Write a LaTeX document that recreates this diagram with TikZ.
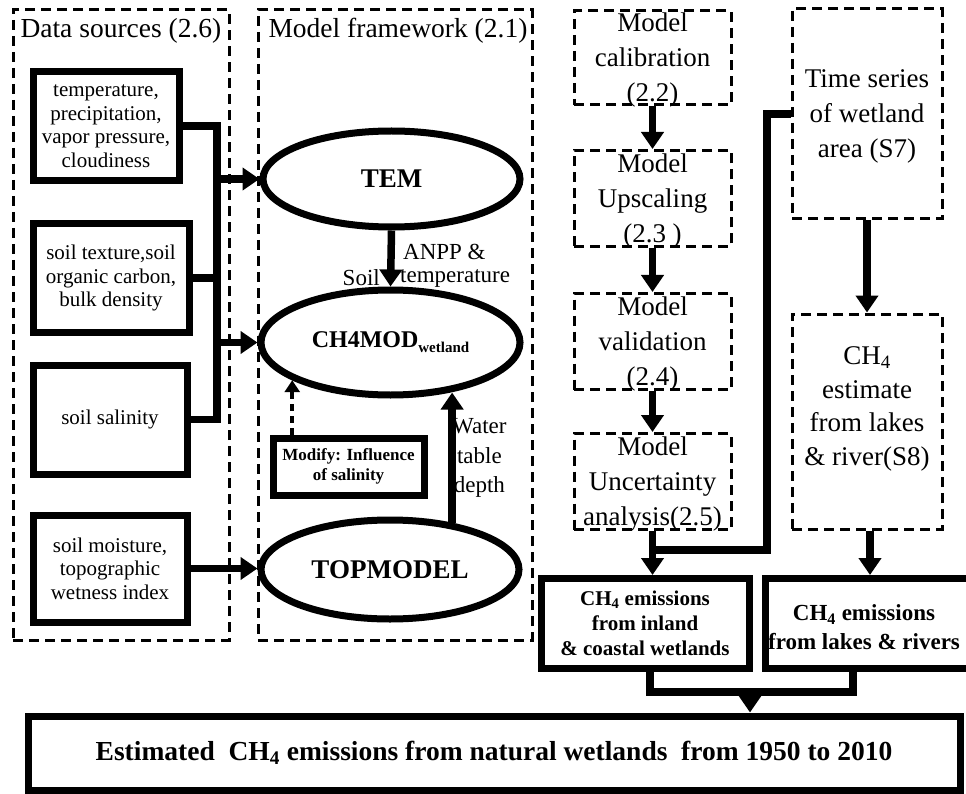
\documentclass[tikz,border=0pt]{standalone}
\usepackage{fontspec}
\setmainfont{Liberation Serif}
\usetikzlibrary{arrows.meta,shapes.geometric}
\newcommand\fs[2]{\fontsize{#1}{#2}\selectfont}
\begin{document}
\begin{tikzpicture}[x=1pt,y=-1pt,
  thickbox/.style={draw, line width=7pt, rectangle, inner sep=0pt, align=center},
  dbox/.style={draw, line width=3pt, dash pattern=on 10pt off 6pt, rectangle, inner sep=0pt},
  ell/.style={draw, ellipse, line width=7pt, inner sep=0pt},
  conn/.style={line width=7.5pt, line join=miter},
  arr/.style={line width=7.5pt, line join=miter, -{Triangle[length=17pt,width=22pt]}},
  dasharr/.style={line width=3.5pt, dash pattern=on 7pt off 5pt, -{Triangle[length=12pt,width=15pt]}},
  dtxt/.style={align=center, font=\fs{21}{23.5}},
  mtxt/.style={align=center, font=\fs{27}{35}},
  ttl/.style={anchor=west, font=\fs{27.5}{28}},
  lbl/.style={font=\fs{23}{29.5}, align=center, inner sep=0pt}
]
\useasboundingbox (0,0) rectangle (966,794);
\clip (0,0) rectangle (966,794);

% group frames
\node[dbox, minimum width=216, minimum height=630] (dsf) at (121,325) {};
\node[dbox, minimum width=274, minimum height=630] (mff) at (395,325) {};
\node[ttl] (t1) at (17,31) {Data sources (2.6)};
\node[ttl] (t2) at (265,31) {Model framework (2.1)};

% data boxes
\node[thickbox, dtxt, minimum width=146, minimum height=109] (b1) at (106,126)
  {temperature,\\precipitation,\\vapor pressure,\\cloudiness};
\node[thickbox, dtxt, minimum width=156, minimum height=109] (b2) at (111,278)
  {soil texture,soil\\organic carbon,\\bulk density};
\node[thickbox, dtxt, minimum width=154, minimum height=109] (b3) at (110,419.5)
  {soil salinity};
\node[thickbox, dtxt, minimum width=154, minimum height=107] (b4) at (110,568.5)
  {soil moisture,\\topographic\\wetness index};

% model ellipses
\node[ell, minimum width=257, minimum height=96, font=\bfseries\fs{27}{27}] (tem) at (391.5,179) {TEM};
\node[ell, minimum width=259, minimum height=105] (ch4) at (390.5,342.5)
  {\bfseries\fs{24}{24}CH4MOD\raisebox{-5pt}{\fs{15}{15}wetland}};
\node[ell, minimum width=258, minimum height=99, font=\bfseries\fs{27}{27}] (topm) at (390,569.5) {TOPMODEL};
\node[thickbox, minimum width=151, minimum height=57, font=\bfseries\fs{17}{20}] (mod) at (348.5,466.5)
  {Modify: Influence\\of salinity};

% bus
\coordinate (busx) at (217,0);
\draw[conn] (b1.east) -- (b1.east -| busx) |- (b3.east);
\draw[conn] (b2.east) -- (b2.east -| busx);
\draw[arr] (busx |- tem.west) -- (tem.west);
\draw[arr] (busx |- ch4.west) -- (ch4.west);
\draw[arr] (b4.east) -- (b4.east -| topm.west);

% model framework arrows
\draw[arr] (tem.south) -- (ch4.north);
\node[lbl, anchor=west] (anpp) at (403,252) {ANPP \&};
\node[lbl, anchor=west] (templ) at (400,278) {temperature};
\node[lbl, anchor=east] (soil) at (380,278) {Soil};
\draw[dasharr] (mod.north -| ch4.201.6) -- (ch4.201.6);
\draw[arr] (topm.37.9) -- (topm.37.9 |- ch4.320.1);
\node[lbl, anchor=west] (wtd) at (452,458) {Water\\table\\depth};

% model steps column
\node[dbox, minimum width=157, minimum height=94] (cal) at (652.5,58) {};
\node[dbox, minimum width=157, minimum height=96] (ups) at (652.5,198.5) {};
\node[dbox, minimum width=157, minimum height=96] (val) at (652.5,341.5) {};
\node[dbox, minimum width=157, minimum height=96] (unc) at (652.5,481.5) {};
\node[mtxt] (calt) at (652.5,60) {Model\\calibration\\(2.2)};
\node[mtxt] (upst) at (652.5,201) {Model\\Upscaling\\(2.3 )};
\node[mtxt] (valt) at (652.5,344) {Model\\validation\\(2.4)};
\node[mtxt] (unct) at (652.5,484) {Model\\Uncertainty\\analysis(2.5)};
\draw[arr] (cal.south) -- (ups.north);
\draw[arr] (ups.south) -- (val.north);
\draw[arr] (val.south) -- (unc.north);

% wetland area column
\node[dbox, minimum width=150, minimum height=210] (ts) at (867,114) {};
\node[dbox, minimum width=150, minimum height=215] (est) at (867,421.5) {};
\node[mtxt] (tst) at (867,116) {Time series\\of wetland\\area (S7)};
\node[mtxt, font=\fs{27}{33.5}] (estt) at (867,409) {CH\textsubscript{4}\\estimate\\from lakes\\\& river(S8)};
\draw[arr] (ts.south) -- (est.north);

% emission boxes
\node[thickbox, minimum width=208, minimum height=90, font=\bfseries\fs{21}{25}] (inl) at (645,623.5)
  {CH\textsubscript{4} emissions\\from inland\\\& coastal wetlands};
\node[thickbox, minimum width=212, minimum height=90] (lak) at (871,623.5) {};
\node[align=center, inner sep=0pt, font=\bfseries\fs{23}{29}] (lakt) at (864,627)
  {CH\textsubscript{4} emissions\\from lakes \& rivers};
\coordinate (jn) at (652.5,550);
\coordinate (tsc) at (767,550);
\coordinate (ax) at (870,0);
\draw[conn] (ts.west) -| (tsc) -- (jn);
\draw[arr] (unc.south) -- (unc.south |- inl.north);
\draw[arr] (est.south -| ax) -- (lak.north -| ax);

% final
\node[thickbox, minimum width=932, minimum height=74, font=\bfseries\fs{27.5}{27.5}] (fin) at (494,753)
  {Estimated\ \ CH\textsubscript{4} emissions from natural wetlands\ \ from 1950 to 2010};
\coordinate (bl) at (650,692);
\coordinate (br) at (853,692);
\coordinate (bm) at (750,692);
\draw[conn] (inl.south -| bl) |- (br) -- (br |- lak.south);
\draw[arr] (bm) -- (bm |- fin.north);
\end{tikzpicture}
\end{document}
